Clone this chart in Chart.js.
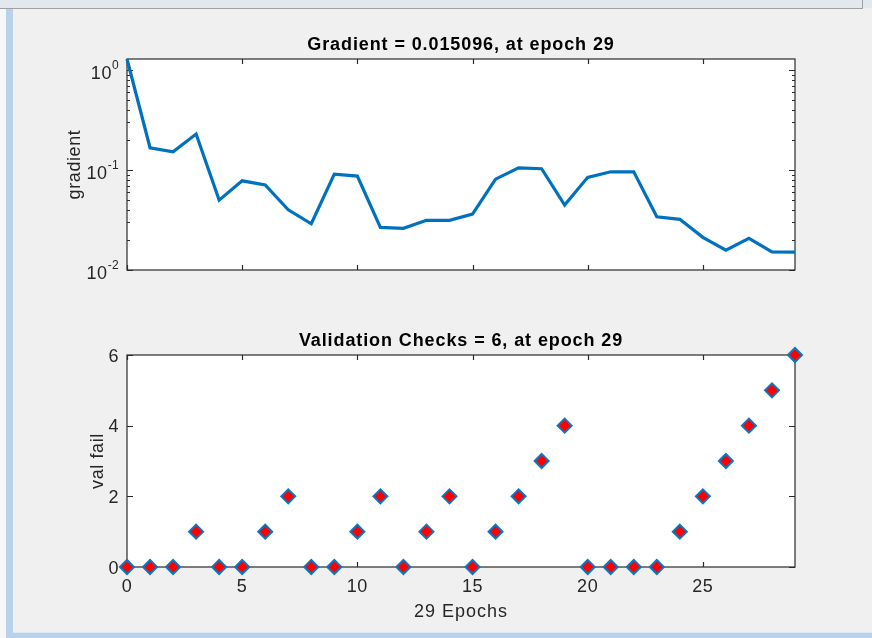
<!DOCTYPE html>
<html>
<head>
<meta charset="utf-8">
<script src="https://cdn.jsdelivr.net/npm/chart.js@4.4.1/dist/chart.umd.min.js"></script>
<style>
html,body{margin:0;padding:0;background:#f0f0f0;width:872px;height:638px;overflow:hidden;position:relative}
canvas{position:absolute;left:0;top:0}
.f{position:absolute}
</style>
</head>
<body>
<div class="f" style="left:0;top:0;width:872px;height:8px;background:#e3e8ef"></div>
<div class="f" style="left:0;top:8px;width:862px;height:1px;background:#a0a0a0"></div>
<div class="f" style="left:862px;top:0;width:1px;height:9px;background:#a0a0a0"></div>
<div class="f" style="left:0;top:9px;width:6px;height:629px;background:#f7f7f7"></div>
<div class="f" style="left:6px;top:9px;width:7px;height:629px;background:#b9d1ea"></div>
<div class="f" style="left:13px;top:632px;width:859px;height:1px;background:#dfe7f1"></div>
<div class="f" style="left:6px;top:633px;width:866px;height:5px;background:#b9d1ea"></div>
<canvas id="c1" width="872" height="638"></canvas>
<canvas id="c2" width="872" height="638"></canvas>
<script>
// ---- data ----
const epochs = [0,1,2,3,4,5,6,7,8,9,10,11,12,13,14,15,16,17,18,19,20,21,22,23,24,25,26,27,28,29];
const gradient = [1.29,0.167,0.152,0.229,0.050,0.078,0.071,0.040,0.029,0.091,0.087,0.0267,0.0261,0.0314,0.0314,0.0363,0.081,0.105,0.103,0.0447,0.0845,0.096,0.096,0.0341,0.0321,0.0212,0.0158,0.0207,0.0152,0.0151];
const valFail = [0,0,0,1,0,0,1,2,0,0,1,2,0,1,2,0,1,2,3,4,0,0,0,0,1,2,3,4,5,6];
const xTicks = [0,5,10,15,20,25];
const gradMajor = [1,0.1,0.01];
const gradExp = ['0','-1','-2'];
const gradMinor = [0.02,0.03,0.04,0.05,0.06,0.07,0.08,0.09,0.2,0.3,0.4,0.5,0.6,0.7,0.8,0.9];
const valTicks = [0,2,4,6];
const valTickLabels = ['0','2','4','6'];
const xTickLabels = ['0','5','10','15','20','25'];
const titles = ['Gradient = 0.015096, at epoch 29','Validation Checks = 6, at epoch 29'];
const yLabels = ['gradient','val fail'];
const xLabel = '29 Epochs';

const FONT = '"Liberation Sans", Arial, Helvetica, sans-serif';
const TXT = '#262626';

function drawText(ctx, s, x, y, o) {
  ctx.save();
  ctx.font = o.font;
  ctx.fillStyle = o.color || TXT;
  ctx.textAlign = o.align || 'center';
  ctx.textBaseline = 'alphabetic';
  if ('letterSpacing' in ctx) ctx.letterSpacing = (o.spacing || 0) + 'px';
  ctx.translate(x, y);
  if (o.rotate) ctx.rotate(o.rotate);
  ctx.fillText(s, 0, 0);
  ctx.restore();
}
function textW(ctx, s, font, spacing) {
  ctx.save();
  ctx.font = font;
  if ('letterSpacing' in ctx) ctx.letterSpacing = (spacing || 0) + 'px';
  const w = ctx.measureText(s).width;
  ctx.restore();
  return w;
}

function axesPlugin(cfg) {
  return {
    id: 'matlabAxes',
    beforeDraw(chart) {
      const {ctx, chartArea: a} = chart;
      ctx.save();
      ctx.fillStyle = '#ffffff';
      ctx.fillRect(a.left, a.top, a.right - a.left, a.bottom - a.top);
      ctx.restore();
    },
    beforeDatasetsDraw(chart) {
      const {ctx, chartArea: a, scales} = chart;
      const sx = scales.x, sy = scales.y;
      ctx.save();
      ctx.strokeStyle = '#2b2b2b';
      ctx.lineWidth = 1.2;
      ctx.strokeRect(a.left, a.top, a.right - a.left, a.bottom - a.top);
      ctx.beginPath();
      xTicks.forEach(v => {
        const px = Math.round(sx.getPixelForValue(v)) + 0.5;
        ctx.moveTo(px, a.bottom); ctx.lineTo(px, a.bottom - 5);
        ctx.moveTo(px, a.top); ctx.lineTo(px, a.top + 5);
      });
      cfg.yMajor.forEach(v => {
        const py = Math.round(sy.getPixelForValue(v)) + 0.5;
        ctx.moveTo(a.left, py); ctx.lineTo(a.left + 6, py);
        ctx.moveTo(a.right, py); ctx.lineTo(a.right - 6, py);
      });
      (cfg.yMinor || []).forEach(v => {
        const py = Math.round(sy.getPixelForValue(v)) + 0.5;
        ctx.moveTo(a.left, py); ctx.lineTo(a.left + 3, py);
        ctx.moveTo(a.right, py); ctx.lineTo(a.right - 3, py);
      });
      ctx.stroke();
      ctx.restore();
    },
    afterDraw(chart) {
      const {ctx, chartArea: a, scales} = chart;
      const sx = scales.x, sy = scales.y;
      const cx = (a.left + a.right) / 2;
      const cy = (a.top + a.bottom) / 2;
      drawText(ctx, cfg.title, cx, a.top - 9, {font: 'bold 18px ' + FONT, color: '#000', spacing: 0.9});
      drawText(ctx, cfg.yLabel, cfg.yLabelX, cy, {font: '18px ' + FONT, spacing: 0.6, rotate: -Math.PI / 2});
      const rightEdge = a.left - 8;
      if (cfg.logLabels) {
        cfg.yMajor.forEach((v, i) => {
          const py = sy.getPixelForValue(v);
          const ef = '12px ' + FONT;
          const ew = textW(ctx, cfg.logLabels[i], ef, 0.3);
          drawText(ctx, cfg.logLabels[i], rightEdge - ew, py - 1, {font: ef, align: 'left', spacing: 0.3});
          drawText(ctx, '10', rightEdge - ew, py + 9, {font: '18px ' + FONT, align: 'right', spacing: 0.6});
        });
      } else {
        cfg.yMajor.forEach((v, i) => {
          const py = sy.getPixelForValue(v);
          drawText(ctx, cfg.yTickLabels[i], rightEdge, py + 6.5, {font: '18px ' + FONT, align: 'right', spacing: 0.6});
        });
      }
      if (cfg.xTickLabels) {
        xTicks.forEach((v, i) => {
          const px = sx.getPixelForValue(v);
          drawText(ctx, cfg.xTickLabels[i], px, a.bottom + 25, {font: '18px ' + FONT, spacing: 0.6});
        });
        drawText(ctx, cfg.xLabel, cx, a.bottom + 50, {font: '18px ' + FONT, spacing: 1.0});
      }
    }
  };
}

const baseOpts = (padTop, padBottom, yScale) => ({
  responsive: false,
  animation: false,
  events: [],
  layout: {padding: {left: 127, right: 77, top: padTop, bottom: padBottom}},
  plugins: {legend: {display: false}, tooltip: {enabled: false}, title: {display: false}},
  scales: {
    x: {type: 'linear', min: 0, max: 29, display: false},
    y: yScale
  }
});

new Chart(document.getElementById('c1'), {
  type: 'line',
  data: {
    datasets: [{
      data: epochs.map((e, i) => ({x: e, y: gradient[i]})),
      borderColor: '#0072bd',
      borderWidth: 3.2,
      pointRadius: 0,
      tension: 0,
      fill: false,
      clip: false
    }]
  },
  options: baseOpts(59, 638 - 270, {type: 'logarithmic', min: 0.01, max: gradient[0], display: false}),
  plugins: [axesPlugin({
    title: titles[0], yLabel: yLabels[0], yLabelX: 80,
    yMajor: gradMajor, yMinor: gradMinor, logLabels: gradExp
  })]
});

new Chart(document.getElementById('c2'), {
  type: 'line',
  data: {
    datasets: [{
      data: epochs.map((e, i) => ({x: e, y: valFail[i]})),
      showLine: false,
      pointStyle: 'rectRot',
      pointRadius: 7,
      pointBorderWidth: 2,
      pointBackgroundColor: '#ff0000',
      pointBorderColor: '#0a78c4',
      clip: false
    }]
  },
  options: baseOpts(355, 638 - 567, {type: 'linear', min: 0, max: 6, display: false}),
  plugins: [axesPlugin({
    title: titles[1], yLabel: yLabels[1], yLabelX: 103,
    yMajor: valTicks, yTickLabels: valTickLabels,
    xTickLabels: xTickLabels, xLabel: xLabel
  })]
});
</script>
</body>
</html>
